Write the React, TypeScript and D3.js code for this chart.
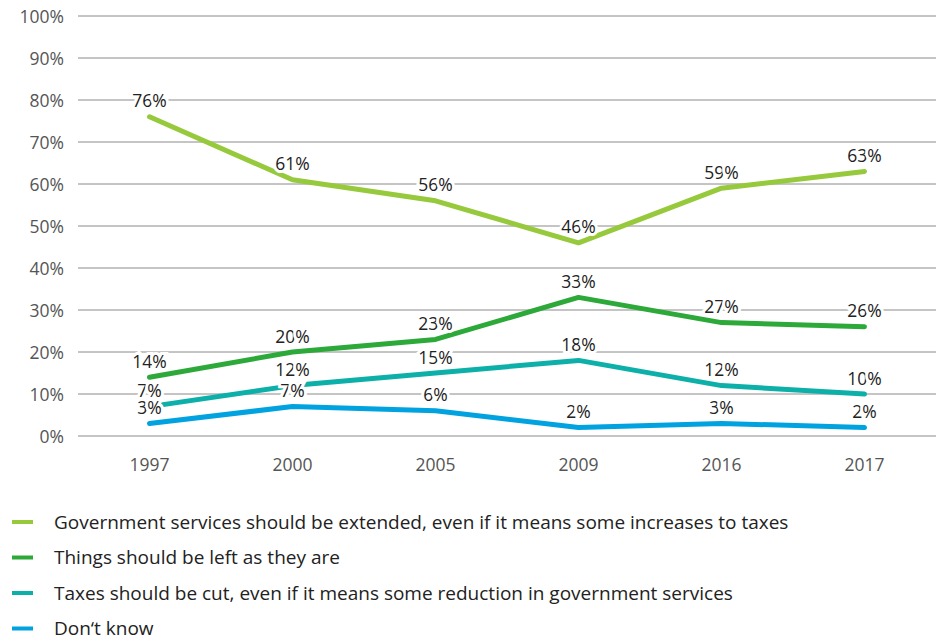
import React, { useEffect } from "react";
import * as d3 from "d3";

const years = ["1997", "2000", "2005", "2009", "2016", "2017"];
const extendServices = [76, 61, 56, 46, 59, 63];
const leaveAsIs = [14, 20, 23, 33, 27, 26];
const cutTaxes = [7, 12, 15, 18, 12, 10];
const dontKnow = [3, 7, 6, 2, 3, 2];
const yTicks = [0, 10, 20, 30, 40, 50, 60, 70, 80, 90, 100];
const seriesNames = [
  "Government services should be extended, even if it means some increases to taxes",
  "Things should be left as they are",
  "Taxes should be cut, even if it means some reduction in government services",
  "Don\u2018t know",
];
const seriesColors = ["#97C93C", "#2CA939", "#0DB0A9", "#00A2E0"];

const W = 943;
const H = 641;
const FONT = "'Open Sans', 'Noto Sans', sans-serif";

export default function App() {
  useEffect(() => {
    document.body.style.margin = "0";
  }, []);
  const series = [extendServices, leaveAsIs, cutTaxes, dontKnow];
  const x = d3.scaleBand<string>().domain(years).range([78, 936]);
  const cx = (y: string) => (x(y) as number) + x.bandwidth() / 2;
  const y = d3.scaleLinear().domain([0, 100]).range([436, 16]);
  const line = d3
    .line<number>()
    .x((_, i) => cx(years[i]))
    .y((d) => y(d));

  return (
    <svg width={W} height={H} style={{ display: "block", background: "#fff" }}>
      {yTicks.map((t) => (
        <g key={t}>
          <line x1={78} x2={936} y1={y(t)} y2={y(t)} stroke="#8a8a8a" strokeWidth={1} />
          <text
            x={64}
            y={y(t) + 1}
            dy="0.35em"
            textAnchor="end"
            fontFamily={FONT}
            fontSize={17.5}
            fill="#555"
          >
            {t}%
          </text>
        </g>
      ))}
      {years.map((yr) => (
        <text
          key={yr}
          x={cx(yr)}
          y={465}
          dy="0.35em"
          textAnchor="middle"
          fontFamily={FONT}
          fontSize={17.5}
          fill="#555"
        >
          {yr}
        </text>
      ))}
      {series.map((s, i) => (
        <path
          key={i}
          d={line(s) as string}
          fill="none"
          stroke={seriesColors[i]}
          strokeWidth={5}
          strokeLinejoin="round"
          strokeLinecap="round"
        />
      ))}
      {series.map((s, i) =>
        s.map((v, j) => (
          <text
            key={i + "-" + j}
            x={cx(years[j])}
            y={y(v) - 15.5}
            dy="0.35em"
            textAnchor="middle"
            fontFamily={FONT}
            fontSize={17.5}
            fill="#222"
            stroke="#fff"
            strokeWidth={6}
            paintOrder="stroke"
            strokeLinejoin="miter"
          >
            {v}%
          </text>
        ))
      )}
      {seriesNames.map((n, i) => (
        <g key={n} transform={`translate(0, ${522 + i * 35.5})`}>
          <line x1={12} x2={33} y1={0} y2={0} stroke={seriesColors[i]} strokeWidth={4} />
          <text x={54} y={0} dy="0.35em" fontFamily={FONT} fontSize={19} fill="#222">
            {n}
          </text>
        </g>
      ))}
    </svg>
  );
}
